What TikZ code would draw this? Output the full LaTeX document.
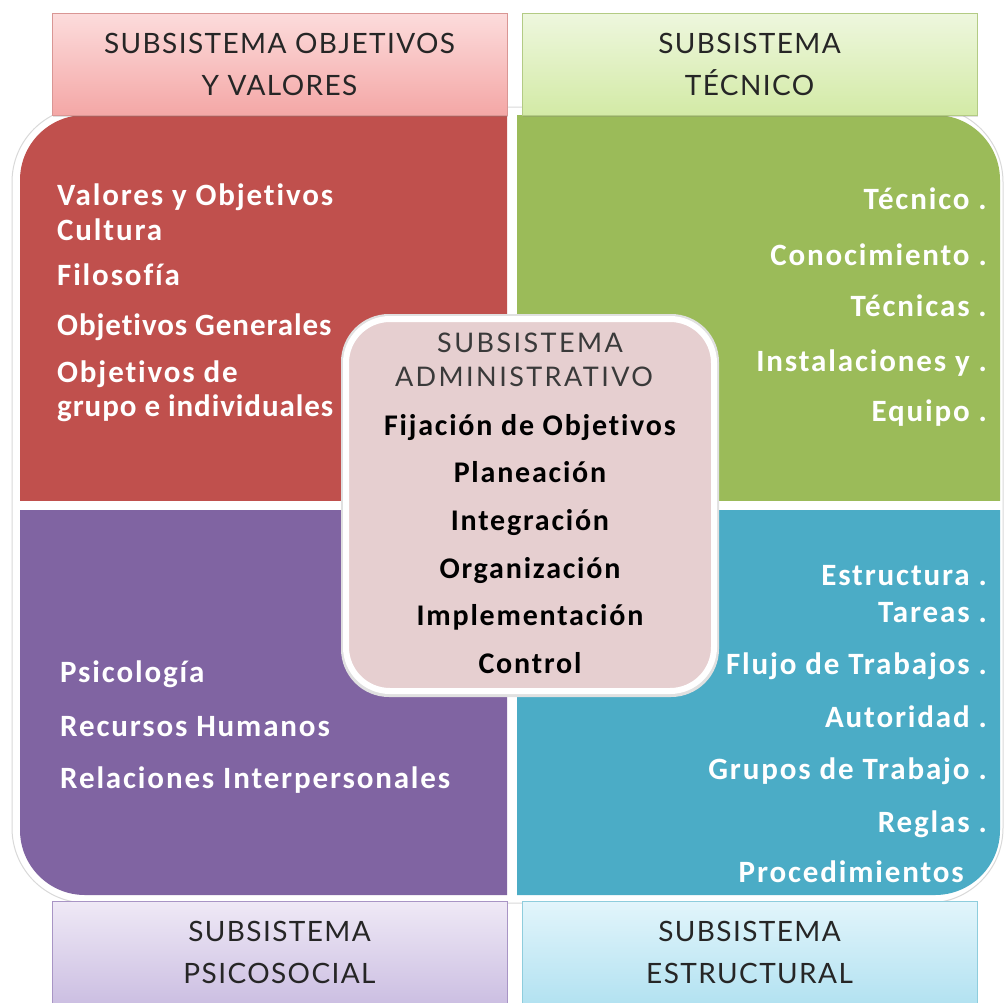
\documentclass[tikz,border=0pt]{standalone}
\usepackage{fontspec}
\setmainfont{Carlito}
\newfontfamily\hdfont[LetterSpace=5]{Lato}
\newfontfamily\ctfont[LetterSpace=9]{Lato}
\newfontfamily\itfont[LetterSpace=6,Ligatures=NoCommon]{Carlito}
\newfontfamily\itnarrow[LetterSpace=3,Ligatures=NoCommon]{Carlito}
\newfontfamily\cifont[LetterSpace=6,Ligatures=NoCommon]{Carlito}
\usetikzlibrary{shadows}
\definecolor{qred}{HTML}{C0504D}
\definecolor{qgreen}{HTML}{9BBB59}
\definecolor{qpurple}{HTML}{8064A2}
\definecolor{qblue}{HTML}{4BACC6}
\definecolor{cpink}{HTML}{E6CFD0}
\definecolor{hpinkT}{HTML}{FCDCDC}
\definecolor{hpinkB}{HTML}{F4A7A6}
\definecolor{hpinkD}{HTML}{D99694}
\definecolor{hgreenT}{HTML}{EEF7DE}
\definecolor{hgreenB}{HTML}{D3EAA6}
\definecolor{hgreenD}{HTML}{B3CB84}
\definecolor{hpurpT}{HTML}{EFE9F6}
\definecolor{hpurpB}{HTML}{CCBFE2}
\definecolor{hpurpD}{HTML}{A895C5}
\definecolor{hblueT}{HTML}{E2F5FB}
\definecolor{hblueB}{HTML}{B3E2F1}
\definecolor{hblueD}{HTML}{8ECDDD}
\definecolor{hdrtext}{HTML}{262626}
\definecolor{ctext}{HTML}{3A3A3A}
\begin{document}
\begin{tikzpicture}[x=1pt,y=-1pt,
  hdrbox/.style={minimum width=455, minimum height=102, inner sep=0, align=center,
    font=\hdfont\fontsize{28}{42}\selectfont, text=hdrtext, line width=1,
    drop shadow={opacity=0.25, shadow xshift=1pt, shadow yshift=-2pt}},
  wl/.style={font=\itfont\bfseries\fontsize{31}{36}\selectfont, text=white, inner sep=0},
  wlnarrow/.style={wl, font=\itnarrow\bfseries\fontsize{31}{36}\selectfont},
  ctitle/.style={font=\ctfont\fontsize{27}{32}\selectfont, text=ctext, anchor=base, inner sep=0},
  citem/.style={font=\cifont\bfseries\fontsize{30}{34}\selectfont, text=black, anchor=base, inner sep=0}]
\useasboundingbox (0,0) rectangle (1004,1002);
\fill[white] (0,0) rectangle (1004,1002);
% outer frame
\draw[black!15, fill=white, rounded corners=75, line width=1] (12,107) rectangle (1003,903);
% quadrants
\begin{scope}\clip (20,115) rectangle (507,500); \fill[qred, rounded corners=65] (20,115) rectangle (700,700); \end{scope}
\begin{scope}\clip (517,115) rectangle (1000,500); \fill[qgreen, rounded corners=65] (300,115) rectangle (1000,700); \end{scope}
\begin{scope}\clip (20,510) rectangle (507,895); \fill[qpurple, rounded corners=65] (20,300) rectangle (700,895); \end{scope}
\begin{scope}\clip (517,510) rectangle (1000,895); \fill[qblue, rounded corners=65] (300,300) rectangle (1000,895); \end{scope}
% headers
\node[hdrbox, top color=hpinkT, bottom color=hpinkB, draw=hpinkD] (hov) at (279.5,64) {SUBSISTEMA OBJETIVOS\\Y VALORES};
\node[hdrbox, top color=hgreenT, bottom color=hgreenB, draw=hgreenD] (htec) at (749.5,64) {SUBSISTEMA\\TÉCNICO};
\node[hdrbox, top color=hpurpT, bottom color=hpurpB, draw=hpurpD] (hpsi) at (279.5,952) {SUBSISTEMA\\PSICOSOCIAL};
\node[hdrbox, top color=hblueT, bottom color=hblueB, draw=hblueD] (hest) at (749.5,952) {SUBSISTEMA\\ESTRUCTURAL};
% red items
\node[wl, anchor=base west] (r1) at (57,205) {Valores y Objetivos};
\node[wl, anchor=base west] (r2) at (57,240) {Cultura};
\node[wl, anchor=base west] (r3) at (57,285) {Filosofía};
\node[wlnarrow, anchor=base west] (r4) at (57,335) {Objetivos Generales};
\node[wl, anchor=base west] (r5) at (57,382) {Objetivos de};
\node[wlnarrow, anchor=base west] (r6) at (57,416) {grupo e individuales};
% green items
\node[wl, anchor=base east] (g1) at (987,209) {Técnico .};
\node[wl, anchor=base east] (g2) at (987,265) {Conocimiento .};
\node[wl, anchor=base east] (g3) at (987,316) {Técnicas .};
\node[wl, anchor=base east] (g4) at (987,371) {Instalaciones y .};
\node[wl, anchor=base east] (g5) at (987,421) {Equipo .};
% purple items
\node[wl, anchor=base west] (p1) at (60,682) {Psicología};
\node[wl, anchor=base west] (p2) at (60,736) {Recursos Humanos};
\node[wl, anchor=base west] (p3) at (60,788) {Relaciones Interpersonales};
% blue items
\node[wl, anchor=base east] (b1) at (987,585) {Estructura .};
\node[wl, anchor=base east] (b2) at (987,622) {Tareas .};
\node[wl, anchor=base east] (b3) at (987,674) {Flujo de Trabajos .};
\node[wl, anchor=base east] (b4) at (987,727) {Autoridad .};
\node[wl, anchor=base east] (b5) at (987,779) {Grupos de Trabajo .};
\node[wl, anchor=base east] (b6) at (987,832) {Reglas .};
\node[wl, anchor=base east] (b7) at (964,882) {Procedimientos};
% center box
\fill[black!12, rounded corners=48] (341,314) rectangle (719,697);
\node[draw=white, line width=6, fill=cpink, rounded corners=44, minimum width=368, minimum height=372, inner sep=0] (adm) at (530,505) {};
\node[ctitle] (c1) at (530,352) {SUBSISTEMA};
\node[ctitle] (c2) at (524,386) {ADMINISTRATIVO};
\node[citem] (c3) at (530,435) {Fijación de Objetivos};
\node[citem] (c4) at (530,482) {Planeación};
\node[citem] (c5) at (530,530) {Integración};
\node[citem] (c6) at (530,578) {Organización};
\node[citem] (c7) at (530,625) {Implementación};
\node[citem] (c8) at (530,673) {Control};
\end{tikzpicture}
\end{document}
